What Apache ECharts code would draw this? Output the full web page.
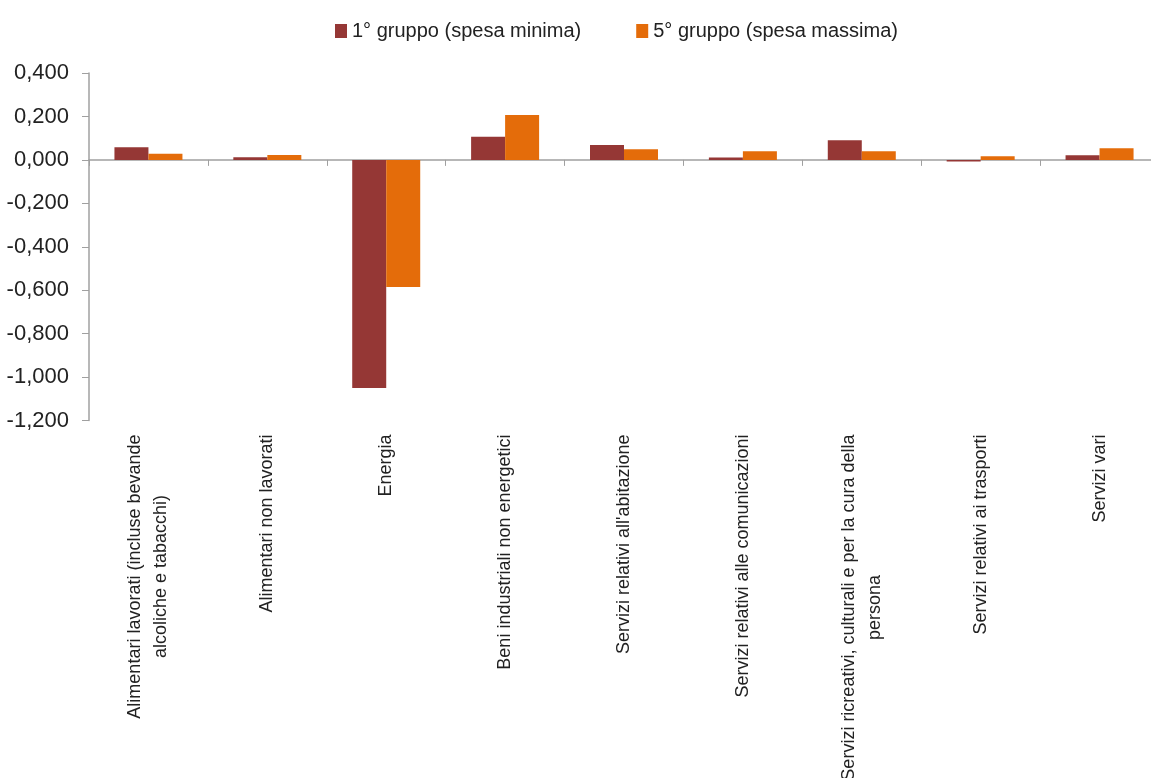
<!DOCTYPE html>
<html>
<head>
<meta charset="utf-8">
<script src="https://cdn.jsdelivr.net/npm/echarts@6/dist/echarts.min.js"></script>
<style>
html,body{margin:0;padding:0;background:#fff;}
#chart{width:1151px;height:778px;}
</style>
</head>
<body>
<div id="chart"></div>
<script>
const categories = [
  "Alimentari lavorati (incluse bevande\nalcoliche e tabacchi)",
  "Alimentari non lavorati",
  "Energia",
  "Beni industriali non energetici",
  "Servizi relativi all'abitazione",
  "Servizi relativi alle comunicazioni",
  "Servizi ricreativi, culturali e per la cura della\npersona",
  "Servizi relativi ai trasporti",
  "Servizi vari"
];
const seriesNames = ["1° gruppo (spesa minima)", "5° gruppo (spesa massima)"];
const gruppo1 = [0.058, 0.012, -1.050, 0.107, 0.069, 0.011, 0.090, -0.008, 0.021];
const gruppo5 = [0.028, 0.023, -0.585, 0.207, 0.049, 0.040, 0.040, 0.017, 0.054];
const yTicks = { min: -1.2, max: 0.4, interval: 0.2 };

const chart = echarts.init(document.getElementById('chart'));
const textColor = '#222';
const axisColor = '#a0a0a0';
chart.setOption({
  animation: false,
  backgroundColor: '#fff',
  textStyle: { fontFamily: 'Liberation Sans, Arial, sans-serif' },
  legend: {
    left: 330, top: 16,
    itemWidth: 12, itemHeight: 14, itemGap: 55,
    icon: 'rect',
    textStyle: { fontSize: 20, color: textColor },
    data: seriesNames
  },
  grid: { left: 89, right: -8, top: 73, bottom: 357.5, containLabel: false, outerBoundsMode: 'none' },
  xAxis: [
    {
      type: 'category', data: categories, position: 'bottom',
      axisLine: { show: false, onZero: false },
      axisTick: { show: false },
      axisLabel: {
        rotate: 90, interval: 0, margin: 14, color: textColor, hideOverlap: false,
        formatter: function (v) {
          return v.split('\n').map(function (l) { return '{c|' + l + '}'; }).join('\n');
        },
        rich: { c: { align: 'center', fontSize: 18, lineHeight: 26, color: textColor } }
      }
    },
    {
      type: 'category', data: categories, position: 'top',
      axisLine: { show: true, onZero: true, lineStyle: { color: axisColor, width: 1.5 } },
      axisTick: { show: true, inside: true, interval: 0, length: 6, lineStyle: { color: axisColor } },
      axisLabel: { show: false, interval: 0 }
    }
  ],
  yAxis: {
    type: 'value', min: yTicks.min, max: yTicks.max, interval: yTicks.interval,
    axisLine: { show: true, lineStyle: { color: axisColor, width: 1.5 } },
    axisTick: { show: true, length: 7, lineStyle: { color: axisColor } },
    splitLine: { show: false },
    axisLabel: {
      fontSize: 22, color: textColor, margin: 20,
      formatter: function (v) { return v.toFixed(3).replace('.', ','); }
    }
  },
  series: [
    { name: seriesNames[0], type: 'bar', xAxisIndex: 0, data: gruppo1, barWidth: 34, barGap: '0%', itemStyle: { color: '#953735' } },
    { name: seriesNames[1], type: 'bar', xAxisIndex: 0, data: gruppo5, barWidth: 34, barGap: '0%', itemStyle: { color: '#E46C0A' } }
  ]
});
</script>
</body>
</html>
